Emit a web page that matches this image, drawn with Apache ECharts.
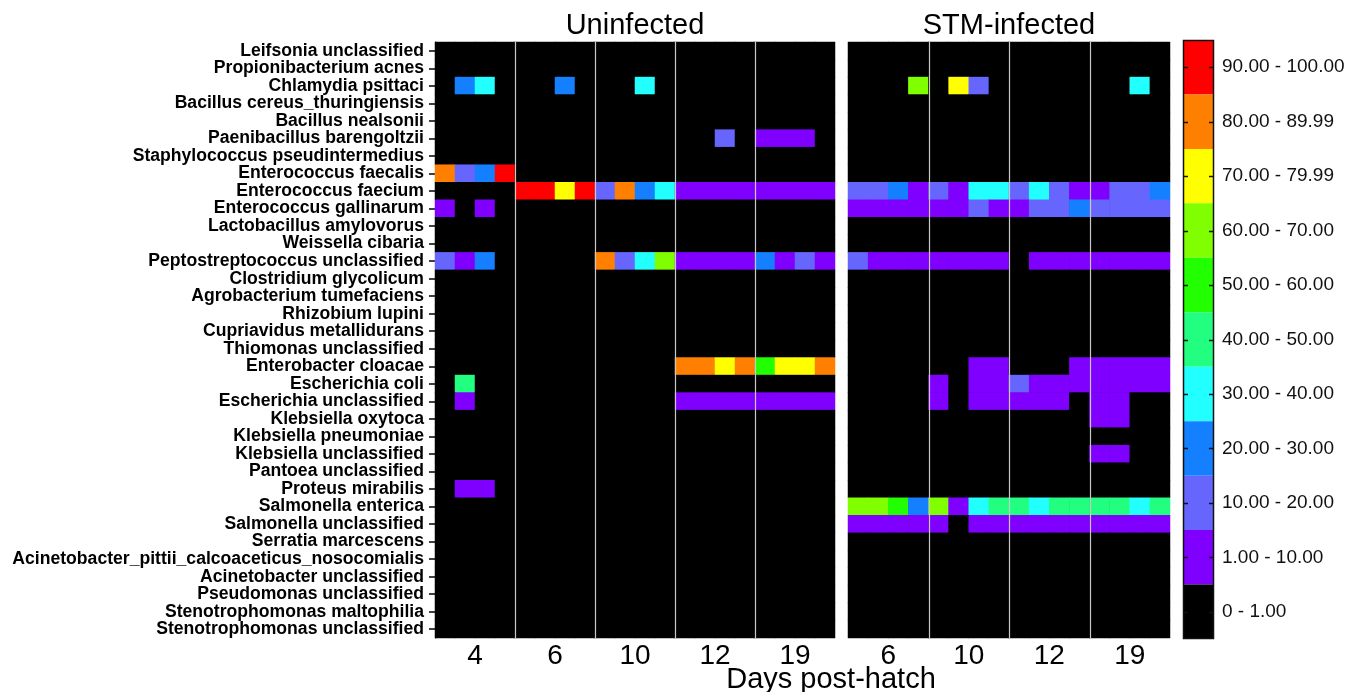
<!DOCTYPE html>
<html><head><meta charset="utf-8">
<script src="https://cdn.jsdelivr.net/npm/echarts@6/dist/echarts.min.js"></script>
<style>html,body{margin:0;padding:0;background:#fff}#c{width:1348px;height:692px}</style>
</head><body><div id="c"></div>
<script>
const species = [
  'Leifsonia unclassified','Propionibacterium acnes','Chlamydia psittaci','Bacillus cereus_thuringiensis',
  'Bacillus nealsonii','Paenibacillus barengoltzii','Staphylococcus pseudintermedius','Enterococcus faecalis',
  'Enterococcus faecium','Enterococcus gallinarum','Lactobacillus amylovorus','Weissella cibaria',
  'Peptostreptococcus unclassified','Clostridium glycolicum','Agrobacterium tumefaciens','Rhizobium lupini',
  'Cupriavidus metallidurans','Thiomonas unclassified','Enterobacter cloacae','Escherichia coli',
  'Escherichia unclassified','Klebsiella oxytoca','Klebsiella pneumoniae','Klebsiella unclassified',
  'Pantoea unclassified','Proteus mirabilis','Salmonella enterica','Salmonella unclassified',
  'Serratia marcescens','Acinetobacter_pittii_calcoaceticus_nosocomialis','Acinetobacter unclassified',
  'Pseudomonas unclassified','Stenotrophomonas maltophilia','Stenotrophomonas unclassified'
];
const uninfectedDays = ['4','6','10','12','19'];
const infectedDays = ['6','10','12','19'];
const replicates = 4;

// relative abundance (%) per species row, 4 birds per day
const uninfected = [
  [0,0,0,0, 0,0,0,0, 0,0,0,0, 0,0,0,0, 0,0,0,0],
  [0,0,0,0, 0,0,0,0, 0,0,0,0, 0,0,0,0, 0,0,0,0],
  [0,25,35,0, 0,0,25,0, 0,0,35,0, 0,0,0,0, 0,0,0,0],
  [0,0,0,0, 0,0,0,0, 0,0,0,0, 0,0,0,0, 0,0,0,0],
  [0,0,0,0, 0,0,0,0, 0,0,0,0, 0,0,0,0, 0,0,0,0],
  [0,0,0,0, 0,0,0,0, 0,0,0,0, 0,0,15,0, 5,5,5,0],
  [0,0,0,0, 0,0,0,0, 0,0,0,0, 0,0,0,0, 0,0,0,0],
  [85,15,25,95, 0,0,0,0, 0,0,0,0, 0,0,0,0, 0,0,0,0],
  [0,0,0,0, 95,95,75,95, 15,85,25,35, 5,5,5,5, 5,5,5,5],
  [5,0,5,0, 0,0,0,0, 0,0,0,0, 0,0,0,0, 0,0,0,0],
  [0,0,0,0, 0,0,0,0, 0,0,0,0, 0,0,0,0, 0,0,0,0],
  [0,0,0,0, 0,0,0,0, 0,0,0,0, 0,0,0,0, 0,0,0,0],
  [15,5,25,0, 0,0,0,0, 85,15,35,65, 5,5,5,5, 25,5,15,5],
  [0,0,0,0, 0,0,0,0, 0,0,0,0, 0,0,0,0, 0,0,0,0],
  [0,0,0,0, 0,0,0,0, 0,0,0,0, 0,0,0,0, 0,0,0,0],
  [0,0,0,0, 0,0,0,0, 0,0,0,0, 0,0,0,0, 0,0,0,0],
  [0,0,0,0, 0,0,0,0, 0,0,0,0, 0,0,0,0, 0,0,0,0],
  [0,0,0,0, 0,0,0,0, 0,0,0,0, 0,0,0,0, 0,0,0,0],
  [0,0,0,0, 0,0,0,0, 0,0,0,0, 85,85,75,85, 55,75,75,85],
  [0,45,0,0, 0,0,0,0, 0,0,0,0, 0,0,0,0, 0,0,0,0],
  [0,5,0,0, 0,0,0,0, 0,0,0,0, 5,5,5,5, 5,5,5,5],
  [0,0,0,0, 0,0,0,0, 0,0,0,0, 0,0,0,0, 0,0,0,0],
  [0,0,0,0, 0,0,0,0, 0,0,0,0, 0,0,0,0, 0,0,0,0],
  [0,0,0,0, 0,0,0,0, 0,0,0,0, 0,0,0,0, 0,0,0,0],
  [0,0,0,0, 0,0,0,0, 0,0,0,0, 0,0,0,0, 0,0,0,0],
  [0,5,5,0, 0,0,0,0, 0,0,0,0, 0,0,0,0, 0,0,0,0],
  [0,0,0,0, 0,0,0,0, 0,0,0,0, 0,0,0,0, 0,0,0,0],
  [0,0,0,0, 0,0,0,0, 0,0,0,0, 0,0,0,0, 0,0,0,0],
  [0,0,0,0, 0,0,0,0, 0,0,0,0, 0,0,0,0, 0,0,0,0],
  [0,0,0,0, 0,0,0,0, 0,0,0,0, 0,0,0,0, 0,0,0,0],
  [0,0,0,0, 0,0,0,0, 0,0,0,0, 0,0,0,0, 0,0,0,0],
  [0,0,0,0, 0,0,0,0, 0,0,0,0, 0,0,0,0, 0,0,0,0],
  [0,0,0,0, 0,0,0,0, 0,0,0,0, 0,0,0,0, 0,0,0,0],
  [0,0,0,0, 0,0,0,0, 0,0,0,0, 0,0,0,0, 0,0,0,0]
];
const infected = [
  [0,0,0,0, 0,0,0,0, 0,0,0,0, 0,0,0,0],
  [0,0,0,0, 0,0,0,0, 0,0,0,0, 0,0,0,0],
  [0,0,0,65, 0,75,15,0, 0,0,0,0, 0,0,35,0],
  [0,0,0,0, 0,0,0,0, 0,0,0,0, 0,0,0,0],
  [0,0,0,0, 0,0,0,0, 0,0,0,0, 0,0,0,0],
  [0,0,0,0, 0,0,0,0, 0,0,0,0, 0,0,0,0],
  [0,0,0,0, 0,0,0,0, 0,0,0,0, 0,0,0,0],
  [0,0,0,0, 0,0,0,0, 0,0,0,0, 0,0,0,0],
  [15,15,25,5, 15,5,35,35, 15,35,15,5, 5,15,15,25],
  [5,5,5,5, 5,5,15,5, 5,15,15,25, 15,15,15,15],
  [0,0,0,0, 0,0,0,0, 0,0,0,0, 0,0,0,0],
  [0,0,0,0, 0,0,0,0, 0,0,0,0, 0,0,0,0],
  [15,5,5,5, 5,5,5,5, 0,5,5,5, 5,5,5,5],
  [0,0,0,0, 0,0,0,0, 0,0,0,0, 0,0,0,0],
  [0,0,0,0, 0,0,0,0, 0,0,0,0, 0,0,0,0],
  [0,0,0,0, 0,0,0,0, 0,0,0,0, 0,0,0,0],
  [0,0,0,0, 0,0,0,0, 0,0,0,0, 0,0,0,0],
  [0,0,0,0, 0,0,0,0, 0,0,0,0, 0,0,0,0],
  [0,0,0,0, 0,0,5,5, 0,0,0,5, 5,5,5,5],
  [0,0,0,0, 5,0,5,5, 15,5,5,5, 5,5,5,5],
  [0,0,0,0, 5,0,5,5, 5,5,5,0, 5,5,0,0],
  [0,0,0,0, 0,0,0,0, 0,0,0,0, 5,5,0,0],
  [0,0,0,0, 0,0,0,0, 0,0,0,0, 0,0,0,0],
  [0,0,0,0, 0,0,0,0, 0,0,0,0, 5,5,0,0],
  [0,0,0,0, 0,0,0,0, 0,0,0,0, 0,0,0,0],
  [0,0,0,0, 0,0,0,0, 0,0,0,0, 0,0,0,0],
  [65,65,55,25, 65,5,35,45, 45,35,45,45, 45,45,35,45],
  [5,5,5,5, 5,0,5,5, 5,5,5,5, 5,5,5,5],
  [0,0,0,0, 0,0,0,0, 0,0,0,0, 0,0,0,0],
  [0,0,0,0, 0,0,0,0, 0,0,0,0, 0,0,0,0],
  [0,0,0,0, 0,0,0,0, 0,0,0,0, 0,0,0,0],
  [0,0,0,0, 0,0,0,0, 0,0,0,0, 0,0,0,0],
  [0,0,0,0, 0,0,0,0, 0,0,0,0, 0,0,0,0],
  [0,0,0,0, 0,0,0,0, 0,0,0,0, 0,0,0,0]
];

const binLower = [0, 1, 10, 20, 30, 40, 50, 60, 70, 80, 90];
const binUpper = [1, 10, 20, 30, 40, 50, 60, 70, 80, 90, 100];
const binLabels = ['0 - 1.00','1.00 - 10.00','10.00 - 20.00','20.00 - 30.00','30.00 - 40.00',
  '40.00 - 50.00','50.00 - 60.00','60.00 - 70.00','70.00 - 79.99','80.00 - 89.99','90.00 - 100.00'];
const binColors = ['#000000','#8000ff','#6666ff','#1480ff','#22ffff','#22ff80','#22ff00','#80ff00','#ffff00','#ff8000','#ff0000'];

const FONT = '"Liberation Sans", Arial, Helvetica, sans-serif';
const G1 = {left: 435, top: 42, width: 400, height: 596};
const G2 = {left: 848, top: 42, width: 322, height: 596};
const LEG = {left: 1183, top: 40, width: 31, height: 599};

function cols(days){ const out=[]; days.forEach(d=>{ for(let r=1;r<=replicates;r++) out.push(d+'_'+r); }); return out; }
function cells(m){ const out=[]; m.forEach((row,r)=>row.forEach((v,c)=>out.push([c,r,v]))); return out; }
function bounds(days){ return days.slice(1).map((d,i)=>[(i+1)*replicates, 0]); }

const sepRender = (params, api) => {
  const k = api.value(0);
  const cs = params.coordSys;
  const x = Math.round(api.coord([k, 0])[0] - api.size([1, 0])[0] / 2) + 0.5;
  return {type:'line', shape:{x1:x, y1:cs.y, x2:x, y2:cs.y+cs.height}, style:{stroke:'#c8c8c8', lineWidth:1.2}};
};

const pieces = binLower.map((lo,i)=>{
  const p = {gte: lo, color: binColors[i], label: binLabels[i]};
  if (i === binLower.length-1) p.lte = binUpper[i]; else p.lt = binUpper[i];
  return p;
});

const legendSeg = LEG.height / pieces.length;
const legendGraphics = [{type:'rect', z:100, shape:{x:LEG.left+0.5, y:LEG.top+0.5, width:LEG.width-1, height:LEG.height-1}, style:{fill:null, stroke:'#111', lineWidth:1.5}}];
for (let i=0;i<pieces.length;i++){
  const y = Math.round(LEG.top + (i+0.5)*legendSeg)+0.5;
  legendGraphics.push({type:'line', z:100, shape:{x1:LEG.left, y1:y, x2:LEG.left+5, y2:y}, style:{stroke:'#111', lineWidth:1.5}});
  legendGraphics.push({type:'line', z:100, shape:{x1:LEG.left+LEG.width-5, y1:y, x2:LEG.left+LEG.width, y2:y}, style:{stroke:'#111', lineWidth:1.5}});
}

const dataAxis = (g, days) => ({type:'category', gridIndex:g, data:cols(days), axisLabel:{show:false}, axisTick:{show:false}, axisLine:{show:false}, splitLine:{show:false}});
const labelAxis = (g, days) => ({type:'category', gridIndex:g, data:days, position:'bottom', axisLine:{show:false}, axisTick:{show:false}, splitLine:{show:false},
  axisLabel:{fontSize:28, color:'#000', fontFamily:FONT, margin:4, interval:0}});

const chart = echarts.init(document.getElementById('c'));
chart.setOption({
  animation: false,
  backgroundColor: '#fff',
  grid: [
    Object.assign({show:true, backgroundColor:'#000', borderWidth:0}, G1),
    Object.assign({show:true, backgroundColor:'#000', borderWidth:0}, G2)
  ],
  xAxis: [dataAxis(0, uninfectedDays), labelAxis(0, uninfectedDays), dataAxis(1, infectedDays), labelAxis(1, infectedDays)],
  yAxis: [
    {type:'category', gridIndex:0, data:species, inverse:true,
     axisLine:{show:true, lineStyle:{color:'#000', width:1}},
     axisTick:{show:true, alignWithLabel:true, interval:0, length:6, lineStyle:{color:'#000', width:1.5}},
     axisLabel:{fontSize:17.6, fontWeight:'bold', color:'#000', fontFamily:FONT, margin:11, interval:0},
     splitLine:{show:false}},
    {type:'category', gridIndex:1, data:species, inverse:true,
     axisLine:{show:false}, axisTick:{show:false}, axisLabel:{show:false}, splitLine:{show:false}}
  ],
  visualMap: {
    type:'piecewise', seriesIndex:[0,1], pieces: pieces, orient:'vertical', align:'left',
    left: LEG.left, top: LEG.top, padding: 0, itemWidth: LEG.width, itemHeight: legendSeg, itemGap: 0,
    itemSymbol:'rect', textGap: 8, hoverLink:false, selectedMode:false,
    textStyle:{fontSize:19, color:'#111', fontFamily:FONT}
  },
  series: [
    {type:'heatmap', xAxisIndex:0, yAxisIndex:0, data:cells(uninfected), itemStyle:{borderWidth:0}, emphasis:{disabled:true}, progressive:0},
    {type:'heatmap', xAxisIndex:2, yAxisIndex:1, data:cells(infected), itemStyle:{borderWidth:0}, emphasis:{disabled:true}, progressive:0},
    {type:'custom', xAxisIndex:0, yAxisIndex:0, data:bounds(uninfectedDays), renderItem:sepRender, z:10, silent:true},
    {type:'custom', xAxisIndex:2, yAxisIndex:1, data:bounds(infectedDays), renderItem:sepRender, z:10, silent:true}
  ],
  graphic: [
    {type:'text', z:100, x: G1.left + G1.width/2, y: 26, style:{text:'Uninfected', fontSize:29, fontFamily:FONT, fill:'#000', align:'center', verticalAlign:'middle'}},
    {type:'text', z:100, x: G2.left + G2.width/2, y: 26, style:{text:'STM-infected', fontSize:29, fontFamily:FONT, fill:'#000', align:'center', verticalAlign:'middle'}},
    {type:'text', z:100, x: 831, y: 680, style:{text:'Days post-hatch', fontSize:29, fontFamily:FONT, fill:'#000', align:'center', verticalAlign:'middle'}}
  ].concat(legendGraphics)
});
</script></body></html>
